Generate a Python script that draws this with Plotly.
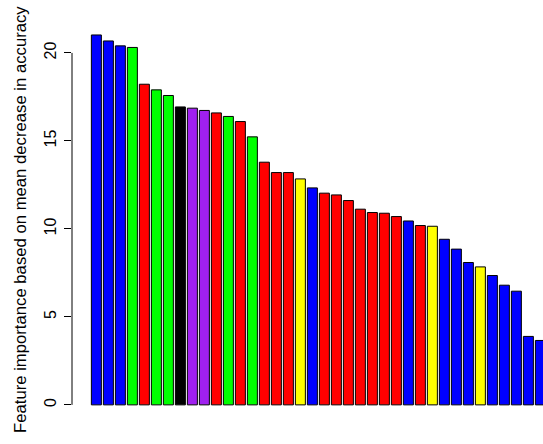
import plotly.graph_objects as go

# Feature importance values (mean decrease in accuracy), sorted
importance = [21.02, 20.68, 20.40, 20.31, 18.22, 17.90, 17.58, 16.93, 16.86, 16.73,
               16.59, 16.39, 16.10, 15.23, 13.79, 13.20, 13.20, 12.84, 12.33, 12.03,
               11.93, 11.61, 11.12, 10.93, 10.89, 10.70, 10.45, 10.19, 10.15, 9.41,
               8.85, 8.09, 7.84, 7.35, 6.80, 6.46, 3.89, 3.66]
bar_colors = ["#0000FF", "#0000FF", "#0000FF", "#00FF00", "#FF0000", "#00FF00", "#00FF00",
              "#000000", "#A020F0", "#A020F0", "#FF0000", "#00FF00", "#FF0000", "#00FF00",
              "#FF0000", "#FF0000", "#FF0000", "#FFFF00", "#0000FF", "#FF0000", "#FF0000",
              "#FF0000", "#FF0000", "#FF0000", "#FF0000", "#FF0000", "#0000FF", "#FF0000",
              "#FFFF00", "#0000FF", "#0000FF", "#0000FF", "#FFFF00", "#0000FF", "#0000FF",
              "#0000FF", "#0000FF", "#0000FF"]
positions = list(range(len(importance)))
y_ticks = [0, 5, 10, 15, 20]
y_title = "Feature importance based on mean decrease in accuracy"

fig = go.Figure(go.Bar(
    x=positions, y=importance, width=1 / 1.2,
    marker=dict(color=bar_colors, line=dict(color="black", width=1)),
))

font = "Liberation Sans, Arial, sans-serif"
fig.update_layout(
    width=543, height=444,
    margin=dict(l=72, r=0, t=20, b=24),
    plot_bgcolor="white", paper_bgcolor="white",
    showlegend=False,
    font=dict(family=font, color="black", size=16),
    xaxis=dict(range=[-2.03, 37.22], showticklabels=False, showgrid=False,
               zeroline=False, showline=False, ticks=""),
    yaxis=dict(range=[-0.86, 21.87], tickvals=y_ticks, ticktext=[str(v) for v in y_ticks],
               showgrid=False, zeroline=False, showline=False,
               ticks="outside", ticklen=7, tickwidth=1, tickcolor="black",
               tickangle=-90, tickfont=dict(size=16), ticklabelstandoff=2),
)
fig.add_shape(type="line", xref="paper", yref="y", x0=0, x1=0,
              y0=y_ticks[0], y1=y_ticks[-1], line=dict(color="black", width=1))
fig.add_annotation(text=y_title, textangle=-90, xref="paper", yref="paper",
                   x=0, y=0.5, xanchor="center", yanchor="middle", xshift=-52,
                   showarrow=False, font=dict(size=16.7))

fig.write_html("out.html")
